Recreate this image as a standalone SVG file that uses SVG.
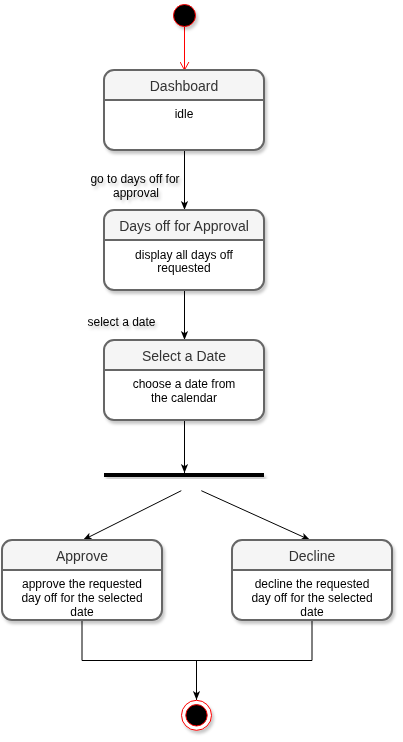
<svg xmlns="http://www.w3.org/2000/svg" width="403" height="742" viewBox="0 0 403 742">
<style>
  .box { fill: none; stroke: #666666; stroke-width: 2; }
  .body { fill: #ffffff; }
  .head { fill: #f5f5f5; }
  .div { stroke: #666666; stroke-width: 2; }
  .title { font-family: "Liberation Sans", Arial, sans-serif; font-size: 14px; fill: #333333; text-anchor: middle; }
  .txt { font-family: "Liberation Sans", Arial, sans-serif; font-size: 12px; fill: #000000; text-anchor: middle; }
  .lbl { font-family: "Liberation Sans", Arial, sans-serif; font-size: 12px; fill: #000000; text-anchor: middle; }
  .edge { fill: none; stroke: #000000; stroke-width: 1; }
</style>
<defs>
  <filter id="sh" x="-10%" y="-10%" width="130%" height="140%">
    <feDropShadow dx="2" dy="3" stdDeviation="1.5" flood-color="#000000" flood-opacity="0.22"/>
  </filter>
  <marker id="arr" viewBox="0 0 10 8" refX="10" refY="4" markerWidth="9" markerHeight="7.5" orient="auto" markerUnits="userSpaceOnUse">
    <path d="M0,0 L10,4 L0,8 L2.5,4 Z" fill="#000000"/>
  </marker>
  <marker id="open" viewBox="0 0 10 12" refX="10" refY="6" markerWidth="8" markerHeight="10" orient="auto" markerUnits="userSpaceOnUse">
    <path d="M0,0.5 L10,6 L0,11.5" fill="none" stroke="#ff0000" stroke-width="1.2"/>
  </marker>
</defs>

<g id="connectors">
  <line x1="184.5" y1="27" x2="184.5" y2="70" stroke="#ff0000" stroke-width="1" marker-end="url(#open)"/>
  <line class="edge" x1="184.5" y1="150" x2="184.5" y2="210" marker-end="url(#arr)"/>
  <line class="edge" x1="184.5" y1="290" x2="184.5" y2="340" marker-end="url(#arr)"/>
  <line class="edge" x1="184.5" y1="420" x2="184.5" y2="473" marker-end="url(#arr)"/>
  <line class="edge" x1="181.3" y1="490.7" x2="83" y2="540" marker-end="url(#arr)"/>
  <line class="edge" x1="201.3" y1="490.7" x2="310" y2="540" marker-end="url(#arr)"/>
  <path class="edge" d="M82,620 V660.5 H312 V620"/>
  <line class="edge" x1="196.5" y1="660.5" x2="196.5" y2="700" marker-end="url(#arr)"/>
  <g id="edge-labels" filter="url(#sh)">
    <text class="lbl" x="135" y="183.3">go to days off for</text>
    <text class="lbl" x="136" y="196.8">approval</text>
    <text class="lbl" x="121.5" y="326">select a date</text>
  </g>
</g>

<g id="start" filter="url(#sh)">
  <circle cx="184.5" cy="15.5" r="11" fill="#000000" stroke="#ff0000" stroke-width="1"/>
</g>

<g id="dashboard" transform="translate(104,70)" filter="url(#sh)">
  <rect class="body" x="0" y="0" width="160" height="80" rx="10"/>
  <path class="head" d="M0,30 V10 Q0,0 10,0 H150 Q160,0 160,10 V30 Z"/>
  <rect class="box" x="0" y="0" width="160" height="80" rx="10"/>
  <line class="div" x1="0" y1="30" x2="160" y2="30"/>
  <text class="title" x="80" y="21">Dashboard</text>
  <text class="txt" x="80" y="48.3">idle</text>
</g>

<g id="days-off" transform="translate(104,210)" filter="url(#sh)">
  <rect class="body" x="0" y="0" width="160" height="80" rx="10"/>
  <path class="head" d="M0,30 V10 Q0,0 10,0 H150 Q160,0 160,10 V30 Z"/>
  <rect class="box" x="0" y="0" width="160" height="80" rx="10"/>
  <line class="div" x1="0" y1="30" x2="160" y2="30"/>
  <text class="title" x="80" y="21">Days off for Approval</text>
  <text class="txt" x="80" y="49.3">display all days off</text>
  <text class="txt" x="80" y="62">requested</text>
</g>

<g id="select-date" transform="translate(104,340)" filter="url(#sh)">
  <rect class="body" x="0" y="0" width="160" height="80" rx="10"/>
  <path class="head" d="M0,30 V10 Q0,0 10,0 H150 Q160,0 160,10 V30 Z"/>
  <rect class="box" x="0" y="0" width="160" height="80" rx="10"/>
  <line class="div" x1="0" y1="30" x2="160" y2="30"/>
  <text class="title" x="80" y="21">Select a Date</text>
  <text class="txt" x="80" y="48.3">choose a date from</text>
  <text class="txt" x="80" y="62">the calendar</text>
</g>

<g id="fork" filter="url(#sh)">
  <rect x="104" y="473" width="160" height="4" fill="#000000"/>
</g>

<g id="approve" transform="translate(2,540)" filter="url(#sh)">
  <rect class="body" x="0" y="0" width="160" height="80" rx="10"/>
  <path class="head" d="M0,30 V10 Q0,0 10,0 H150 Q160,0 160,10 V30 Z"/>
  <rect class="box" x="0" y="0" width="160" height="80" rx="10"/>
  <line class="div" x1="0" y1="30" x2="160" y2="30"/>
  <text class="title" x="80" y="21">Approve</text>
  <text class="txt" x="80" y="48.3">approve the requested</text>
  <text class="txt" x="80" y="62">day off for the selected</text>
  <text class="txt" x="80" y="75.8">date</text>
</g>

<g id="decline" transform="translate(232,540)" filter="url(#sh)">
  <rect class="body" x="0" y="0" width="160" height="80" rx="10"/>
  <path class="head" d="M0,30 V10 Q0,0 10,0 H150 Q160,0 160,10 V30 Z"/>
  <rect class="box" x="0" y="0" width="160" height="80" rx="10"/>
  <line class="div" x1="0" y1="30" x2="160" y2="30"/>
  <text class="title" x="80" y="21">Decline</text>
  <text class="txt" x="80" y="48.3">decline the requested</text>
  <text class="txt" x="80" y="62">day off for the selected</text>
  <text class="txt" x="80" y="75.8">date</text>
</g>

<g id="end" filter="url(#sh)">
  <circle cx="196.5" cy="715.3" r="15" fill="#ffffff" stroke="#ff0000" stroke-width="1"/>
  <circle cx="196.5" cy="715.3" r="10.7" fill="#000000" stroke="#ff0000" stroke-width="1"/>
</g>
</svg>
